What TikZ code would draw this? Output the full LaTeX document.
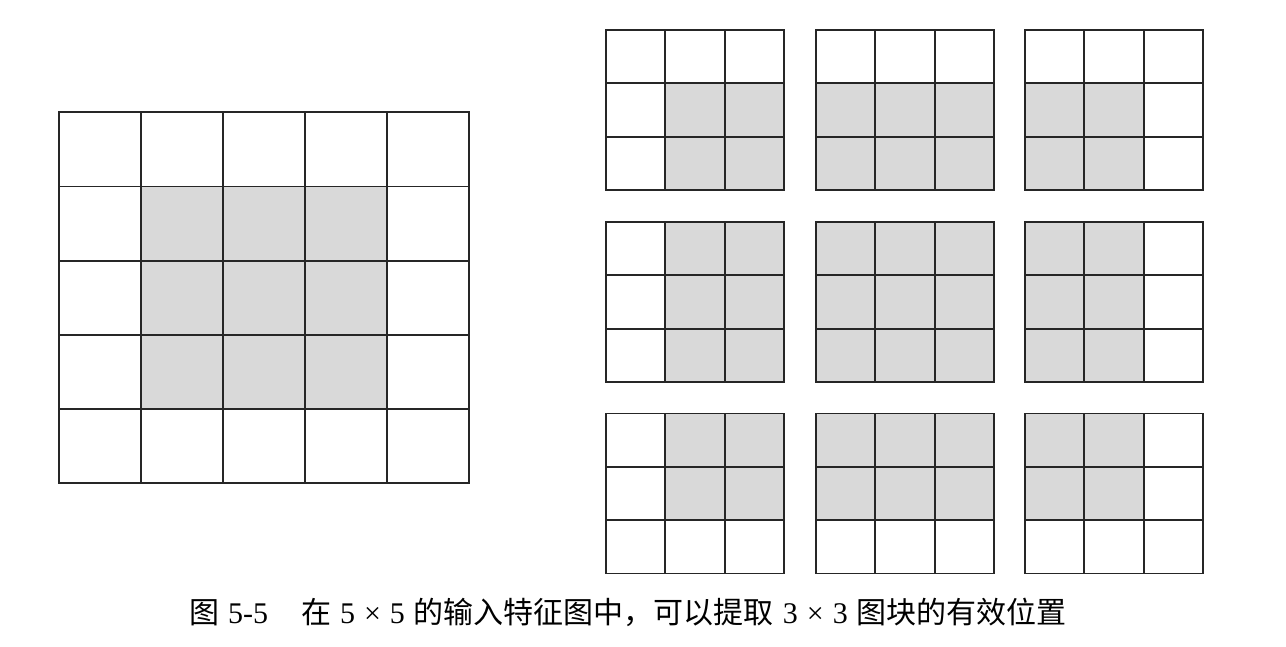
\documentclass[tikz,border=0pt]{standalone}
\usepackage{fontspec}
\setmainfont{Liberation Serif}
\newfontfamily\cjk{Noto Sans CJK SC}
\definecolor{cellgray}{HTML}{D9D9D9}
\tikzset{gridline/.style={line width=1.8pt, draw=black!85, line cap=rect}}
\newcommand{\gp}{\hspace{0.3em}}
\begin{document}
\begin{tikzpicture}[x=1pt,y=-1pt]
\useasboundingbox (0,0) rectangle (1286,646);
% large 5x5 grid
\fill[cellgray] (141,186.5) rectangle (387,409.1);
\foreach \i in {0,...,5} {
  \draw[gridline] (59+\i*82,112.3) -- (59+\i*82,483.3);
  \draw[gridline] (59,112.3+\i*74.2) -- (469,112.3+\i*74.2);
}
% nine 3x3 grids
\foreach \ox/\fa/\fb in {606/1/3,816/0/3,1025/0/2} {
  \foreach \oy/\ga/\gb in {30/1/3,222/0/3,413.5/0/2} {
    \fill[cellgray] (\ox+\fa*59.33,\oy+\ga*53.33) rectangle (\ox+\fb*59.33,\oy+\gb*53.33);
    \foreach \k in {0,...,3} {
      \draw[gridline] (\ox+\k*59.33,\oy) -- (\ox+\k*59.33,\oy+160);
      \draw[gridline] (\ox,\oy+\k*53.33) -- (\ox+178,\oy+\k*53.33);
    }
  }
}
\node[font=\fontsize{30}{32}\selectfont, inner sep=0pt] (cap) at (628,612)
  {{\cjk 图}\gp 5-5\hspace{1.1em}{\cjk 在}\gp 5\gp ×\gp 5\gp{\cjk 的输入特征图中，可以提取}\gp 3\gp ×\gp 3\gp{\cjk 图块的有效位置}};
\end{tikzpicture}
\end{document}
